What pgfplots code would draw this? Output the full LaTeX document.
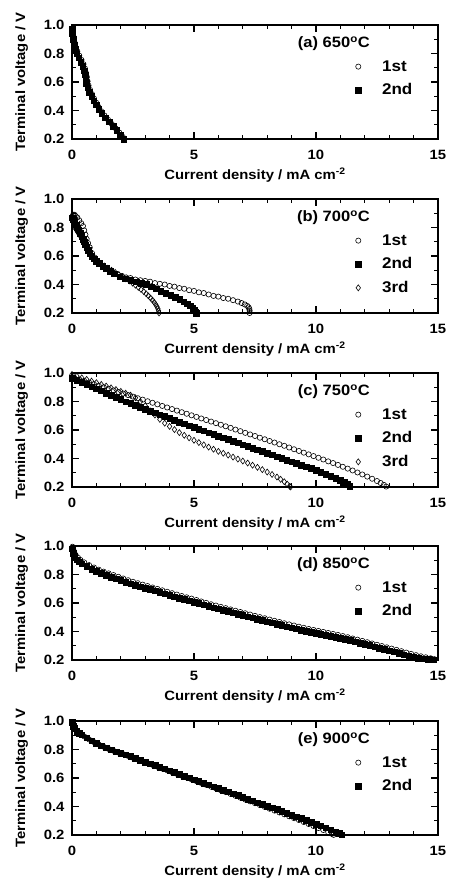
\documentclass[border=0pt]{standalone}
\usepackage{fontspec}
\setmainfont{Liberation Sans}[FakeStretch=1.1]
\usepackage{pgfplots}
\pgfplotsset{compat=1.18}
\newcommand{\tkf}{\bfseries\fontsize{13.5}{14}\selectfont}
\newcommand{\lbf}{\bfseries\fontsize{13.5}{14}\selectfont}
\newcommand{\lgf}{\bfseries\fontsize{15.5}{16}\selectfont}
\newcommand{\ttf}{\bfseries\fontsize{15}{16}\selectfont}
\pgfplotsset{
  panel/.style={
    scale only axis, width=366pt, height=114pt,
    xmin=0, xmax=15, ymin=0.2, ymax=1.0,
    xtick={0,5,10,15}, minor x tick num=4,
    ytick={0.2,0.4,0.6,0.8,1.0}, minor y tick num=1,
    tick align=inside,
    major tick length=7pt, minor tick length=4pt,
    every tick/.style={black, line width=1.2pt},
    axis line style={line width=1.6pt},
    /pgf/number format/assume math mode=true,
    yticklabel style={/pgf/number format/fixed, /pgf/number format/fixed zerofill, /pgf/number format/precision=1, xshift=-4pt},
    tick label style={font=\tkf},
    xticklabel style={yshift=-8pt},
    label style={font=\lbf},
    xlabel={Current density / mA cm\textsuperscript{-2}},
    ylabel={Terminal voltage / V},
    xlabel style={yshift=-1pt},
    ylabel style={yshift=9pt},
    legend style={draw=none, fill=none, font=\lgf, inner sep=0pt,
      nodes={inner sep=0pt},
      at={(rel axis cs:0.774,0.69)}, anchor=north west,
      column sep=21pt, row sep=11pt},
    legend cell align=left,
  },
  s1/.style={only marks, mark=o, mark size=2.6pt, mark options={line width=0.6pt}},
  s2/.style={only marks, mark=square*, mark size=2.8pt},
  s3/.style={only marks, mark=diamond, mark size=3pt, mark options={line width=0.6pt}},
}
\newcommand{\ttl}[1]{\node[anchor=east, inner sep=0pt, font=\ttf] at (rel axis cs:0.814,0.833) {#1};}
\begin{document}
\begin{tikzpicture}
\useasboundingbox (0,0) rectangle (448pt,879pt);
% (a)
\begin{axis}[panel, at={(72pt,740pt)}, anchor=south west]
\addplot[s1] coordinates {(0.02,0.955)(0.06,0.92)(0.10,0.88)(0.15,0.845)(0.22,0.815)(0.30,0.785)(0.39,0.755)(0.47,0.725)(0.53,0.695)(0.57,0.665)(0.61,0.635)(0.64,0.605)(0.68,0.575)(0.74,0.545)(0.82,0.515)(0.90,0.485)(0.99,0.455)(1.09,0.425)(1.20,0.395)(1.33,0.365)(1.48,0.335)(1.63,0.305)(1.79,0.275)(1.94,0.245)(2.08,0.215)(2.15,0.20)};
\addlegendentry{1st}
\addplot[s2] coordinates {(0.00,0.97)(0.01,0.94)(0.04,0.90)(0.08,0.86)(0.12,0.83)(0.19,0.80)(0.28,0.77)(0.36,0.74)(0.44,0.71)(0.49,0.68)(0.53,0.65)(0.56,0.62)(0.59,0.59)(0.64,0.56)(0.71,0.53)(0.80,0.50)(0.89,0.47)(0.99,0.44)(1.09,0.41)(1.22,0.38)(1.37,0.35)(1.52,0.32)(1.68,0.29)(1.83,0.26)(1.97,0.23)(2.12,0.20)};
\addlegendentry{2nd}
\ttl{(a) 650\textsuperscript{o}C}
\end{axis}
% (b)
\begin{axis}[panel, at={(72pt,566pt)}, anchor=south west]
\addplot[s1] coordinates {(0.05,0.89)(0.10,0.89)(0.15,0.88)(0.22,0.87)(0.30,0.85)(0.38,0.83)(0.45,0.81)(0.50,0.78)(0.55,0.75)(0.60,0.72)(0.66,0.69)(0.73,0.66)(0.82,0.62)(0.92,0.59)(1.03,0.565)(1.15,0.545)(1.28,0.525)(1.42,0.51)(1.56,0.495)(1.72,0.48)(1.88,0.47)(2.05,0.46)(2.22,0.45)(2.40,0.445)(2.60,0.435)(2.80,0.43)(3.00,0.425)(3.20,0.42)(3.40,0.41)(3.60,0.405)(3.80,0.40)(4.00,0.39)(4.20,0.385)(4.40,0.375)(4.60,0.37)(4.80,0.36)(5.00,0.355)(5.20,0.345)(5.40,0.34)(5.60,0.33)(5.80,0.32)(6.00,0.315)(6.20,0.305)(6.40,0.30)(6.60,0.29)(6.80,0.28)(6.95,0.27)(7.08,0.26)(7.18,0.25)(7.24,0.24)(7.27,0.228)(7.28,0.215)(7.28,0.20)};
\addlegendentry{1st}
\addplot[s2] coordinates {(0.00,0.87)(0.05,0.86)(0.10,0.84)(0.16,0.82)(0.22,0.80)(0.28,0.78)(0.34,0.76)(0.40,0.74)(0.46,0.72)(0.50,0.70)(0.55,0.68)(0.60,0.66)(0.66,0.64)(0.73,0.62)(0.81,0.60)(0.90,0.58)(1.00,0.565)(1.12,0.55)(1.26,0.53)(1.40,0.515)(1.56,0.495)(1.74,0.475)(1.96,0.455)(2.18,0.44)(2.40,0.43)(2.62,0.42)(2.84,0.41)(3.04,0.40)(3.24,0.385)(3.44,0.37)(3.64,0.355)(3.84,0.34)(4.04,0.325)(4.24,0.31)(4.42,0.295)(4.58,0.28)(4.72,0.265)(4.84,0.25)(4.94,0.235)(5.02,0.22)(5.07,0.205)(5.09,0.20)};
\addlegendentry{2nd}
\addplot[s3] coordinates {(0.00,0.88)(0.04,0.85)(0.09,0.82)(0.15,0.79)(0.22,0.77)(0.30,0.75)(0.38,0.73)(0.46,0.71)(0.55,0.685)(0.64,0.655)(0.73,0.625)(0.83,0.60)(0.93,0.58)(1.03,0.565)(1.17,0.545)(1.32,0.53)(1.47,0.515)(1.62,0.50)(1.77,0.485)(1.92,0.47)(2.07,0.455)(2.21,0.44)(2.35,0.425)(2.48,0.41)(2.60,0.395)(2.72,0.38)(2.83,0.365)(2.94,0.35)(3.04,0.335)(3.13,0.32)(3.22,0.305)(3.30,0.29)(3.37,0.275)(3.43,0.26)(3.48,0.245)(3.52,0.23)(3.55,0.215)(3.57,0.20)};
\addlegendentry{3rd}
\ttl{(b) 700\textsuperscript{o}C}
\end{axis}
% (c)
\begin{axis}[panel, at={(72pt,392pt)}, anchor=south west]
\addplot[s1] coordinates {(0.1,0.965)(0.3,0.955)(0.5,0.945)(0.7,0.933)(0.9,0.922)(1.1,0.91)(1.3,0.90)(1.5,0.89)(1.7,0.878)(1.9,0.867)(2.1,0.856)(2.3,0.845)(2.5,0.834)(2.7,0.823)(2.9,0.813)(3.1,0.802)(3.3,0.791)(3.5,0.78)(3.7,0.769)(3.9,0.758)(4.1,0.747)(4.3,0.736)(4.5,0.725)(4.7,0.714)(4.9,0.703)(5.1,0.692)(5.3,0.681)(5.5,0.67)(5.7,0.659)(5.9,0.648)(6.1,0.637)(6.3,0.626)(6.5,0.615)(6.7,0.603)(6.9,0.592)(7.1,0.58)(7.3,0.569)(7.5,0.558)(7.7,0.546)(7.9,0.535)(8.1,0.523)(8.3,0.512)(8.5,0.50)(8.7,0.489)(8.9,0.477)(9.1,0.465)(9.3,0.453)(9.5,0.441)(9.7,0.429)(9.9,0.417)(10.1,0.405)(10.3,0.393)(10.5,0.38)(10.7,0.368)(10.9,0.355)(11.1,0.342)(11.3,0.329)(11.5,0.316)(11.7,0.302)(11.9,0.288)(12.1,0.273)(12.3,0.258)(12.5,0.242)(12.65,0.228)(12.78,0.215)(12.88,0.203)};
\addlegendentry{1st}
\addplot[s2] coordinates {(0.0,0.965)(0.2,0.95)(0.4,0.935)(0.6,0.92)(0.8,0.905)(1.0,0.89)(1.2,0.875)(1.4,0.86)(1.6,0.845)(1.8,0.83)(2.0,0.815)(2.2,0.80)(2.4,0.787)(2.6,0.774)(2.8,0.761)(3.0,0.748)(3.2,0.734)(3.4,0.721)(3.6,0.708)(3.8,0.695)(4.0,0.682)(4.2,0.669)(4.4,0.656)(4.6,0.643)(4.8,0.631)(5.0,0.618)(5.2,0.606)(5.4,0.594)(5.6,0.582)(5.8,0.57)(6.0,0.558)(6.2,0.546)(6.4,0.534)(6.6,0.522)(6.8,0.51)(7.0,0.498)(7.2,0.486)(7.4,0.474)(7.6,0.462)(7.8,0.45)(8.0,0.438)(8.2,0.426)(8.4,0.414)(8.6,0.402)(8.8,0.39)(9.0,0.378)(9.2,0.366)(9.4,0.354)(9.6,0.342)(9.8,0.33)(10.0,0.318)(10.2,0.305)(10.4,0.291)(10.6,0.277)(10.8,0.262)(11.0,0.246)(11.15,0.232)(11.28,0.218)(11.38,0.204)};
\addlegendentry{2nd}
\addplot[s3] coordinates {(0.0,0.99)(0.2,0.978)(0.4,0.966)(0.6,0.955)(0.8,0.943)(1.0,0.932)(1.2,0.92)(1.4,0.908)(1.6,0.896)(1.8,0.884)(2.0,0.871)(2.2,0.858)(2.4,0.844)(2.6,0.826)(2.8,0.80)(3.0,0.77)(3.2,0.735)(3.4,0.705)(3.6,0.675)(3.8,0.648)(4.0,0.625)(4.2,0.603)(4.4,0.582)(4.6,0.563)(4.8,0.545)(5.0,0.528)(5.2,0.512)(5.4,0.496)(5.6,0.48)(5.8,0.465)(6.0,0.45)(6.2,0.437)(6.4,0.424)(6.6,0.41)(6.8,0.396)(7.0,0.382)(7.2,0.368)(7.4,0.353)(7.6,0.338)(7.8,0.322)(8.0,0.305)(8.2,0.288)(8.4,0.27)(8.55,0.254)(8.7,0.237)(8.82,0.22)(8.92,0.205)(8.96,0.20)};
\addlegendentry{3rd}
\ttl{(c) 750\textsuperscript{o}C}
\end{axis}
% (d)
\begin{axis}[panel, at={(72pt,219pt)}, anchor=south west]
\addplot[s1] coordinates {(0.02,0.995)(0.07,0.967)(0.15,0.937)(0.25,0.917)(0.35,0.902)(0.5,0.885)(0.7,0.866)(0.9,0.849)(1.1,0.834)(1.3,0.82)(1.5,0.808)(1.7,0.796)(1.9,0.784)(2.1,0.772)(2.3,0.76)(2.5,0.749)(2.7,0.739)(2.9,0.729)(3.1,0.719)(3.3,0.709)(3.5,0.699)(3.7,0.689)(3.9,0.679)(4.1,0.669)(4.3,0.659)(4.5,0.649)(4.7,0.64)(4.9,0.631)(5.1,0.621)(5.3,0.611)(5.5,0.601)(5.7,0.591)(5.9,0.582)(6.1,0.573)(6.3,0.564)(6.5,0.555)(6.7,0.546)(6.9,0.537)(7.1,0.528)(7.3,0.519)(7.5,0.51)(7.7,0.501)(7.9,0.493)(8.1,0.484)(8.3,0.475)(8.5,0.467)(8.7,0.458)(8.9,0.45)(9.1,0.442)(9.3,0.434)(9.5,0.426)(9.7,0.418)(9.9,0.411)(10.1,0.404)(10.3,0.397)(10.5,0.39)(10.7,0.383)(10.9,0.376)(11.1,0.368)(11.3,0.36)(11.5,0.351)(11.7,0.343)(11.9,0.334)(12.1,0.325)(12.3,0.316)(12.5,0.307)(12.7,0.298)(12.9,0.289)(13.1,0.28)(13.3,0.271)(13.5,0.262)(13.7,0.252)(13.9,0.243)(14.1,0.234)(14.3,0.226)(14.5,0.219)(14.7,0.212)(14.85,0.206)};
\addlegendentry{1st}
\addplot[s2] coordinates {(0.00,0.98)(0.05,0.95)(0.10,0.93)(0.20,0.905)(0.30,0.89)(0.40,0.877)(0.60,0.857)(0.80,0.838)(1.00,0.822)(1.20,0.808)(1.40,0.795)(1.60,0.783)(1.80,0.771)(2.00,0.759)(2.20,0.747)(2.40,0.736)(2.60,0.725)(2.80,0.715)(3.00,0.705)(3.20,0.695)(3.40,0.685)(3.60,0.675)(3.80,0.665)(4.00,0.655)(4.20,0.645)(4.40,0.635)(4.60,0.626)(4.80,0.617)(5.00,0.607)(5.20,0.597)(5.40,0.587)(5.60,0.577)(5.80,0.568)(6.00,0.559)(6.20,0.55)(6.40,0.541)(6.60,0.532)(6.80,0.523)(7.00,0.514)(7.20,0.505)(7.40,0.496)(7.60,0.487)(7.80,0.478)(8.00,0.47)(8.20,0.461)(8.40,0.452)(8.60,0.444)(8.80,0.435)(9.00,0.427)(9.20,0.419)(9.40,0.411)(9.60,0.403)(9.80,0.396)(10.00,0.389)(10.20,0.382)(10.40,0.375)(10.60,0.368)(10.80,0.361)(11.00,0.353)(11.20,0.345)(11.40,0.337)(11.60,0.328)(11.80,0.32)(12.00,0.311)(12.20,0.302)(12.40,0.293)(12.60,0.284)(12.80,0.275)(13.00,0.266)(13.20,0.257)(13.40,0.248)(13.60,0.238)(13.80,0.228)(14.00,0.22)(14.20,0.214)(14.40,0.21)(14.60,0.207)(14.80,0.203)};
\addlegendentry{2nd}
\ttl{(d) 850\textsuperscript{o}C}
\end{axis}
% (e)
\begin{axis}[panel, at={(72pt,44pt)}, anchor=south west]
\addplot[s1] coordinates {(0.02,0.985)(0.07,0.958)(0.15,0.938)(0.25,0.922)(0.35,0.909)(0.5,0.892)(0.7,0.871)(0.9,0.852)(1.1,0.835)(1.3,0.819)(1.5,0.804)(1.7,0.791)(1.9,0.779)(2.1,0.767)(2.3,0.755)(2.5,0.742)(2.7,0.729)(2.9,0.717)(3.1,0.704)(3.3,0.692)(3.5,0.679)(3.7,0.666)(3.9,0.654)(4.1,0.641)(4.3,0.629)(4.5,0.616)(4.7,0.603)(4.9,0.59)(5.1,0.578)(5.3,0.565)(5.5,0.552)(5.7,0.539)(5.9,0.527)(6.1,0.514)(6.3,0.501)(6.5,0.488)(6.7,0.475)(6.9,0.462)(7.1,0.449)(7.3,0.436)(7.5,0.423)(7.7,0.41)(7.9,0.397)(8.1,0.384)(8.3,0.371)(8.5,0.358)(8.7,0.345)(8.9,0.331)(9.1,0.318)(9.3,0.305)(9.5,0.291)(9.7,0.277)(9.9,0.263)(10.1,0.249)(10.3,0.235)(10.5,0.22)(10.65,0.208)(10.72,0.201)};
\addlegendentry{1st}
\addplot[s2] coordinates {(0.00,0.99)(0.05,0.965)(0.10,0.948)(0.20,0.93)(0.30,0.916)(0.40,0.904)(0.60,0.882)(0.80,0.862)(1.00,0.844)(1.20,0.827)(1.40,0.812)(1.60,0.798)(1.80,0.786)(2.00,0.774)(2.20,0.763)(2.40,0.751)(2.60,0.738)(2.80,0.726)(3.00,0.713)(3.20,0.701)(3.40,0.689)(3.60,0.676)(3.80,0.664)(4.00,0.651)(4.20,0.639)(4.40,0.627)(4.60,0.614)(4.80,0.602)(5.00,0.589)(5.20,0.577)(5.40,0.565)(5.60,0.552)(5.80,0.54)(6.00,0.527)(6.20,0.515)(6.40,0.503)(6.60,0.49)(6.80,0.478)(7.00,0.465)(7.20,0.453)(7.40,0.441)(7.60,0.428)(7.80,0.416)(8.00,0.403)(8.20,0.391)(8.40,0.379)(8.60,0.366)(8.80,0.354)(9.00,0.341)(9.20,0.329)(9.40,0.316)(9.60,0.303)(9.80,0.29)(10.00,0.277)(10.20,0.264)(10.40,0.251)(10.60,0.238)(10.80,0.224)(10.95,0.213)(11.05,0.203)};
\addlegendentry{2nd}
\ttl{(e) 900\textsuperscript{o}C}
\end{axis}
\end{tikzpicture}
\end{document}
